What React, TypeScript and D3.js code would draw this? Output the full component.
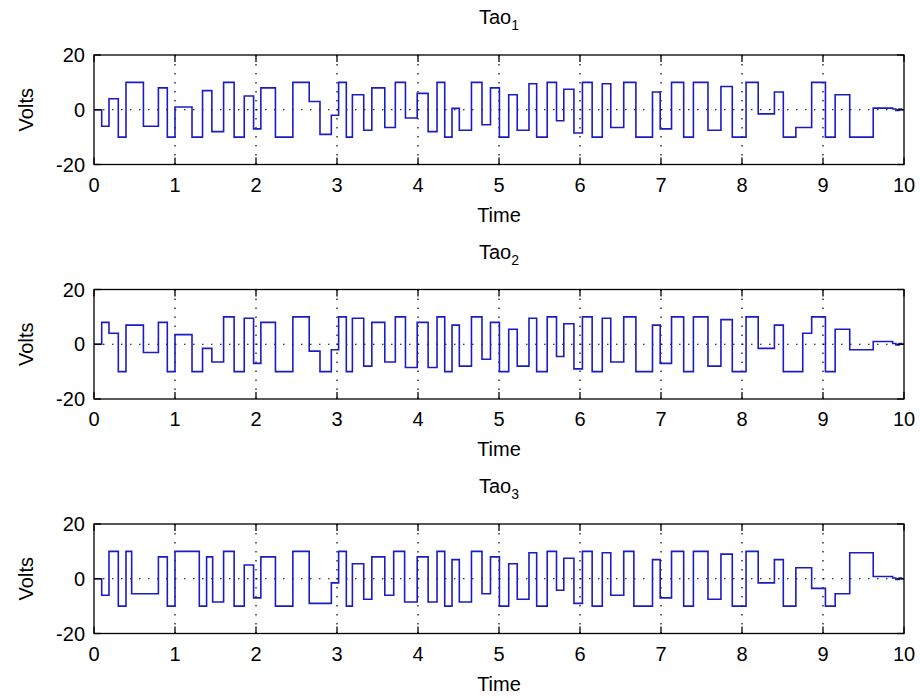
import React from "react";
import * as d3 from "d3";

// ---- data ----
const tao1Times = [0, 0.095, 0.185, 0.3, 0.395, 0.61, 0.795, 0.905, 1.0, 1.21, 1.34, 1.455, 1.6, 1.73, 1.855, 1.97, 2.06, 2.24, 2.455, 2.657, 2.79, 2.93, 3.02, 3.115, 3.19, 3.33, 3.43, 3.59, 3.72, 3.845, 3.99, 4.125, 4.235, 4.33, 4.42, 4.51, 4.66, 4.79, 4.895, 5.005, 5.12, 5.225, 5.37, 5.465, 5.595, 5.71, 5.8, 5.925, 6.03, 6.15, 6.275, 6.38, 6.54, 6.69, 6.895, 6.99, 7.13, 7.28, 7.4, 7.58, 7.74, 7.88, 8.05, 8.2, 8.4, 8.51, 8.665, 8.86, 9.03, 9.15, 9.33, 9.62, 9.86, 9.9, 9.94, 9.97];
const tao1Values = [0, -6, 4, -10, 10, -6, 8, -10, 1, -10, 7, -8, 10, -10, 5, -7, 8, -10, 10, 3, -9, -2, 10, -10, 5.5, -7.5, 8, -6.5, 10, -3, 6, -8, 10, -10, 0.5, -7.5, 10, -5.5, 8, -10, 5.5, -7.5, 9.5, -10, 10, -4, 7.5, -8.5, 10, -10, 9.5, -6.5, 10, -10, 6.5, -7, 10, -10, 10, -7.5, 8.5, -10, 10, -1.5, 6.5, -10, -6.5, 10, -10, 5.5, -10, 0.6, 0.3, -0.3, 0.3, 0];

const tao2Times = [0, 0.095, 0.185, 0.3, 0.395, 0.61, 0.795, 0.905, 1.0, 1.21, 1.34, 1.455, 1.6, 1.73, 1.855, 1.97, 2.06, 2.24, 2.455, 2.657, 2.79, 2.93, 3.02, 3.115, 3.19, 3.33, 3.43, 3.59, 3.72, 3.845, 3.99, 4.125, 4.235, 4.33, 4.42, 4.51, 4.66, 4.79, 4.895, 5.005, 5.12, 5.225, 5.37, 5.465, 5.595, 5.71, 5.8, 5.925, 6.03, 6.15, 6.275, 6.38, 6.54, 6.69, 6.895, 6.99, 7.13, 7.28, 7.4, 7.58, 7.74, 7.88, 8.05, 8.2, 8.4, 8.51, 8.75, 8.86, 9.03, 9.15, 9.33, 9.62, 9.86, 9.9, 9.94, 9.97];
const tao2Values = [0, 8, 4, -10, 7, -3, 8, -10, 3.5, -10, -1.5, -6.5, 10, -10, 9.5, -7, 8, -10, 10, -2.5, -10, -2, 10, -10, 9.5, -8, 8, -6.5, 10, -8.5, 8, -8.5, 10, -10, 7, -8, 10, -5.5, 8, -10, 5.5, -8, 9.5, -10, 10, -4.5, 7.5, -9, 10, -10, 9.5, -6.5, 10, -10, 7, -7, 10, -10, 10, -8, 9, -10, 10, -1.5, 7, -10, 4, 10, -10, 5.5, -2, 1, 0.3, -0.3, 0.3, 0];

const tao3Times = [0, 0.095, 0.185, 0.3, 0.395, 0.465, 0.795, 0.905, 1.0, 1.3, 1.39, 1.465, 1.6, 1.73, 1.855, 1.97, 2.06, 2.24, 2.455, 2.657, 2.93, 3.02, 3.115, 3.19, 3.33, 3.43, 3.59, 3.7, 3.835, 3.99, 4.125, 4.235, 4.33, 4.42, 4.51, 4.66, 4.79, 4.895, 5.005, 5.12, 5.225, 5.37, 5.465, 5.595, 5.71, 5.8, 5.925, 6.03, 6.15, 6.275, 6.38, 6.54, 6.665, 6.895, 6.99, 7.13, 7.28, 7.4, 7.58, 7.74, 7.88, 8.05, 8.2, 8.4, 8.51, 8.665, 8.86, 9.03, 9.15, 9.33, 9.62, 9.86, 9.9, 9.94, 9.97];
const tao3Values = [0, -6, 10, -10, 10, -5.5, 8, -10, 10, -10, 8, -8.5, 10, -10, 5, -7, 8, -10, 10, -9, -1.5, 10, -10, 5.5, -7.5, 8, -6, 10, -8.5, 8, -8.5, 10, -10, 7, -8.5, 10, -5.5, 8, -10, 5.5, -7.5, 9.5, -10, 10, -4.2, 7.5, -9, 10, -10, 9.5, -6, 10, -10, 7, -7, 10, -10, 10, -7.5, 9, -10, 10, -1.5, 7, -10, 4, -3.5, -10, -5.5, 9.5, 0.8, 0.3, -0.3, 0.3, 0];

const xTicks = [0, 1, 2, 3, 4, 5, 6, 7, 8, 9, 10];
const yTicks = [-20, 0, 20];
const titleBase = "Tao";
const titleSubs = ["1", "2", "3"];
const xLabel = "Time";
const yLabel = "Volts";

// ---- layout ----
const W = 920;
const H = 698;
const LEFT = 94;
const RIGHT = 904;
const PANEL_TOPS = [55, 289.5, 524];
const PANEL_H = 109.5;
const FONT = "Arimo, 'Liberation Sans', Arial, Helvetica, sans-serif";
const FS = 20;
const LINE_COLOR = "#1c1cc4";

type PanelProps = { times: number[]; values: number[]; top: number; sub: string };

function Panel({ times, values, top, sub }: PanelProps) {
  const x = d3.scaleLinear().domain([0, 10]).range([LEFT, RIGHT]);
  const y = d3.scaleLinear().domain([-20, 20]).range([top + PANEL_H, top]);
  const pts: [number, number][] = times.map((t, i) => [t, values[i]] as [number, number]);
  pts.push([10, values[values.length - 1]]);
  const line = d3
    .line<[number, number]>()
    .x((d) => x(d[0]))
    .y((d) => y(d[1]))
    .curve(d3.curveStepAfter);
  const bottom = top + PANEL_H;
  const tickLen = 7;
  return (
    <g>
      {/* grid */}
      {xTicks.slice(1, -1).map((t) => (
        <line key={"gx" + t} x1={x(t)} x2={x(t)} y1={top} y2={bottom} stroke="#000" strokeWidth={1.2} strokeDasharray="1.5 7.5" />
      ))}
      <line x1={LEFT} x2={RIGHT} y1={y(0)} y2={y(0)} stroke="#000" strokeWidth={1.2} strokeDasharray="1.5 7.5" />
      {/* signal */}
      <path d={line(pts) || ""} fill="none" stroke={LINE_COLOR} strokeWidth={1.6} />
      {/* box */}
      <rect x={LEFT} y={top} width={RIGHT - LEFT} height={PANEL_H} fill="none" stroke="#000" strokeWidth={1.3} />
      {/* ticks */}
      {xTicks.map((t) => (
        <g key={"tx" + t}>
          <line x1={x(t)} x2={x(t)} y1={bottom} y2={bottom - tickLen} stroke="#000" strokeWidth={1.3} />
          <line x1={x(t)} x2={x(t)} y1={top} y2={top + tickLen} stroke="#000" strokeWidth={1.3} />
          <text x={x(t)} y={bottom + 27} textAnchor="middle" fontFamily={FONT} fontSize={FS}>
            {t}
          </text>
        </g>
      ))}
      {yTicks.map((t) => (
        <g key={"ty" + t}>
          <line x1={LEFT} x2={LEFT + tickLen} y1={y(t)} y2={y(t)} stroke="#000" strokeWidth={1.3} />
          <line x1={RIGHT} x2={RIGHT - tickLen} y1={y(t)} y2={y(t)} stroke="#000" strokeWidth={1.3} />
          <text x={LEFT - 9} y={y(t) + 7} textAnchor="end" fontFamily={FONT} fontSize={FS}>
            {t}
          </text>
        </g>
      ))}
      {/* labels */}
      <text x={(LEFT + RIGHT) / 2} y={bottom + 57} textAnchor="middle" fontFamily={FONT} fontSize={FS}>
        {xLabel}
      </text>
      <text
        transform={`translate(${33},${(top + bottom) / 2}) rotate(-90)`}
        textAnchor="middle"
        fontFamily={FONT}
        fontSize={FS}
      >
        {yLabel}
      </text>
      <text x={(LEFT + RIGHT) / 2} y={top - 31} textAnchor="middle" fontFamily={FONT} fontSize={FS}>
        {titleBase}
        <tspan fontSize={14} dy={6}>
          {sub}
        </tspan>
      </text>
    </g>
  );
}

export default function App() {
  const series = [
    { times: tao1Times, values: tao1Values },
    { times: tao2Times, values: tao2Values },
    { times: tao3Times, values: tao3Values },
  ];
  return (
    <div style={{ position: "fixed", left: 0, top: 0, width: W, height: H, background: "#fff" }}>
      <svg width={W} height={H} viewBox={`0 0 ${W} ${H}`} style={{ display: "block" }}>
        <rect x={0} y={0} width={W} height={H} fill="#fff" />
        {series.map((s, i) => (
          <Panel key={i} times={s.times} values={s.values} top={PANEL_TOPS[i]} sub={titleSubs[i]} />
        ))}
      </svg>
    </div>
  );
}
